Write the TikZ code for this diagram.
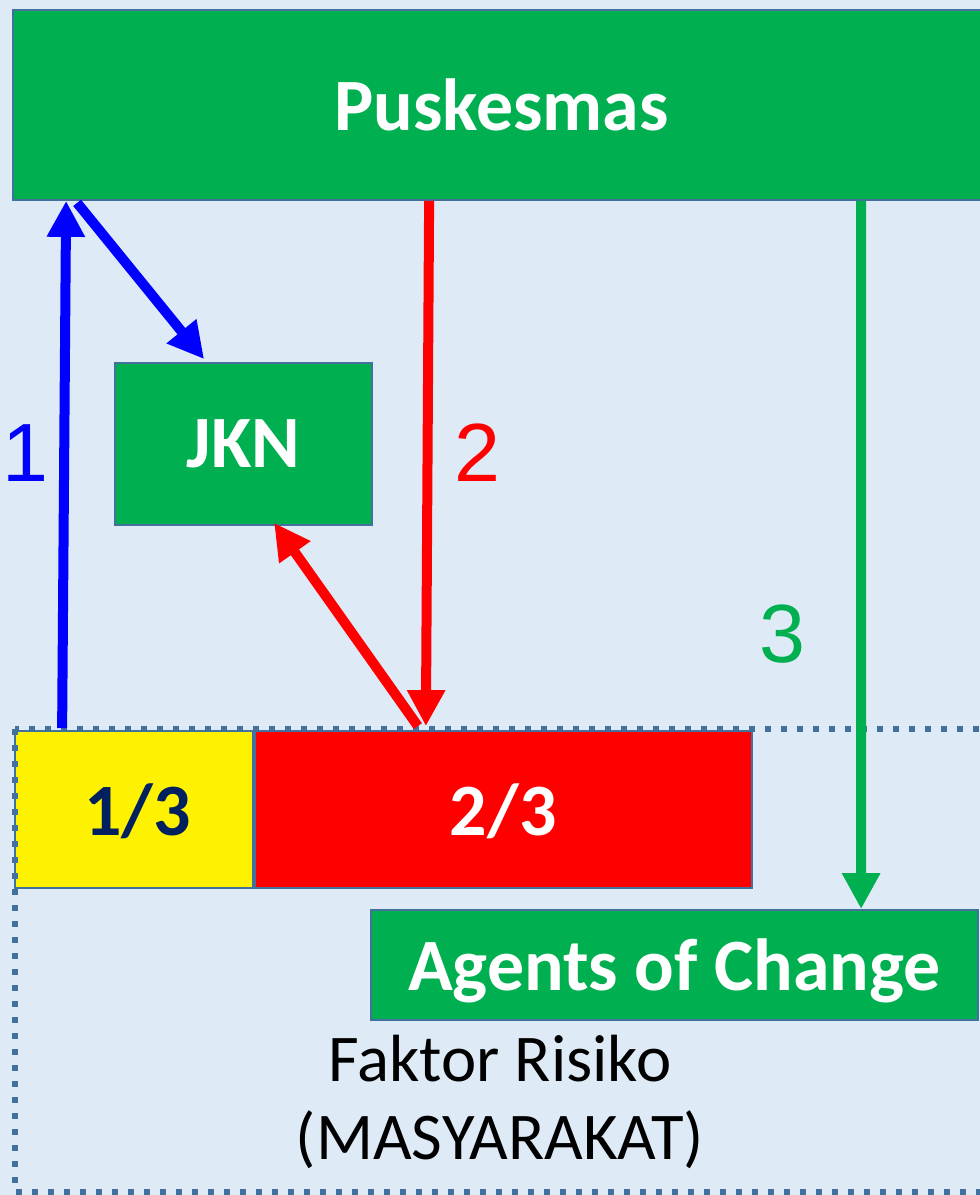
\documentclass[tikz,border=0pt]{standalone}
\usepackage{fontspec}
\setmainfont{Carlito}
\newfontfamily\numfont{Liberation Sans}
\usetikzlibrary{positioning}
\usetikzlibrary{arrows.meta}
\definecolor{bgblue}{HTML}{DEEBF7}
\definecolor{boxgreen}{HTML}{00B050}
\definecolor{lineblue}{HTML}{41719C}
\definecolor{navy}{HTML}{002060}
\tikzset{
    mybox/.style = {rectangle, draw=lineblue, line width=1pt, fill=boxgreen, text=white, inner sep=0pt, text depth=0pt, font=\bfseries\fontsize{42}{48}\selectfont},
    myboxy/.style = {mybox, fill=yellow, text=navy},
    myboxr/.style = {mybox, fill=red},
    tip/.style = {-{Triangle[length=0.72cm,width=0.72cm]}},
    edgeb/.style = {tip, line width=0.2cm, blue},
    edger/.style = {tip, line width=0.2cm, red},
    edgeg/.style = {tip, line width=0.2cm, boxgreen},
    numlabel/.style = {inner sep=0pt, font=\numfont\fontsize{47}{50}\selectfont},
    areabox/.style = {draw=lineblue, line width=0.12cm, dash pattern=on 0.12cm off 0.2cm}, % community area
}

\begin{document}
\begin{tikzpicture}
\useasboundingbox (0,0) rectangle (19.6,-23.9);
\fill[bgblue] (0,0) rectangle (19.6,-23.9);
\clip (0,0) rectangle (19.6,-23.9);
%
\node[mybox, minimum width=19.54cm, minimum height=3.8cm] at (10.03,-2.1) (pusk) {Puskesmas};
\node[mybox, minimum width=5.14cm, minimum height=3.24cm] at (4.87,-8.88) (jkn) {JKN};
\node[myboxy, minimum width=4.76cm, minimum height=3.14cm] at (2.68,-16.19) (third) {\hspace{0.15cm}1/3};
\node[myboxr, minimum width=9.94cm, minimum height=3.14cm, right=0pt of third] (twothird) {2/3};
\node[mybox, minimum width=12.14cm, minimum height=2.2cm] at (13.49,-19.3) (agents) {Agents of Change};
\node[align=center, font=\fontsize{38}{44}\selectfont] at (10,-22.04) (risk) {Faktor Risiko\\(MASYARAKAT)};
%
\draw[areabox] (0.3,-14.58) rectangle (20.2,-23.84);
%
\draw[edgeb] ([xshift=0.96cm,yshift=0.04cm]third.north west) -- ([xshift=1.08cm]pusk.south west);
\draw[edgeb] ([xshift=1.3cm,yshift=-0.04cm]pusk.south west) -- ([xshift=1.8cm,yshift=0.06cm]jkn.north west);
\draw[edger] ([xshift=8.34cm]pusk.south west) -- ([xshift=3.44cm,yshift=0.08cm]twothird.north west);
\draw[edger] ([xshift=3.28cm,yshift=0.08cm]twothird.north west) -- ([xshift=3.2cm,yshift=0.06cm]jkn.south west);
\draw[edgeg] ([xshift=16.98cm]pusk.south west) -- ([xshift=9.82cm]agents.north west);
%
\node[numlabel, text=blue] at (0.5,-9.06) (n1) {1};
\node[numlabel, text=red] at (9.54,-9.06) (n2) {2};
\node[numlabel, text=boxgreen] at (15.64,-12.68) (n3) {3};

\end{tikzpicture}
\end{document}
